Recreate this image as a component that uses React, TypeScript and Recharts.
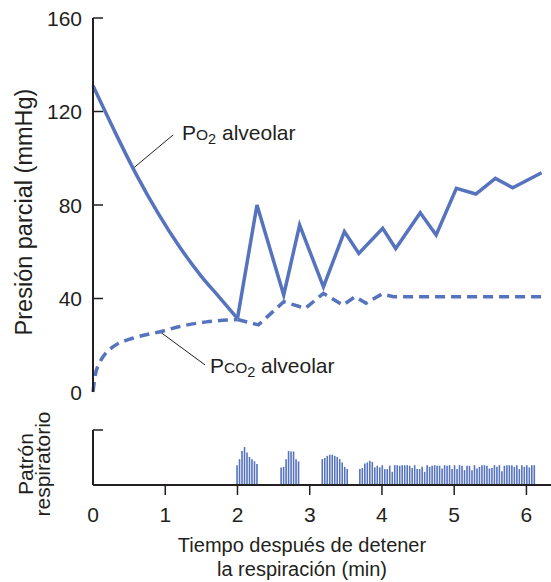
import { LineChart, Line, BarChart, Bar, XAxis, YAxis, ReferenceLine } from 'recharts';

// Values (time in min, pressure in mmHg)
const PO2_FALL_T = [0, 0.3, 0.6, 0.9, 1.2, 1.5, 1.75, 2.0];
const PO2_FALL_V = [131, 111.5, 93, 76.5, 62, 49.5, 40.5, 31.5];
const PO2_RISE_T = [2.0, 2.27, 2.64, 2.86, 3.19, 3.48, 3.68, 4.01, 4.19, 4.53, 4.75, 5.03, 5.3, 5.57, 5.81, 6.21];
const PO2_RISE_V = [31.5, 80, 41.5, 71.4, 45, 68.6, 59.3, 70, 61.4, 76.7, 67.2, 87.1, 84.7, 91.4, 87.4, 93.8];

const PCO2_RISE_T = [0, 0.03, 0.1, 0.18, 0.28, 0.55, 0.93, 1.2, 1.57, 2.0];
const PCO2_RISE_V = [0, 7, 13, 16.7, 19.4, 23, 25.8, 28, 30, 31];
const PCO2_LATE_T = [2.0, 2.29, 2.64, 2.94, 3.19, 3.46, 3.63, 3.78, 4.0, 4.16, 6.21];
const PCO2_LATE_V = [31, 28.7, 38.6, 35.8, 42.2, 37.2, 40.8, 38, 41.9, 40.8, 40.8];

// Respiratory pattern: bursts of breaths, amplitude in arbitrary units (axis top = 10)
const BREATH_STEP = 0.0345;
const BURST_STARTS = [2.0, 2.61, 3.18, 3.7];
const BURST_1 = [3.6, 4.7, 6.2, 6.9, 5.9, 5.1, 4.7, 4.3, 3.8];
const BURST_2 = [3.2, 3.3, 4.7, 6.2, 6.1, 6.1, 4.7, 4.3];
const BURST_3 = [4.7, 4.9, 5.3, 5.5, 5.5, 5.3, 5.1, 4.7, 4.1, 3.3, 2.9];
const BURST_4 = [
  2.9, 3.1, 3.9, 4.1, 4.4, 4.2, 3.2, 3.5, 3.2, 3.6, 2.9, 2.9, 3.5, 2.4, 3.6, 3.6, 3.5, 3.6,
  3.6, 3.6, 3.5, 3.1, 3.6, 2.9, 2.9, 3.3, 2.4, 3.6, 3.3, 3.5, 3.6, 3.5, 3.5, 3.0, 3.6, 3.5,
  3.6, 2.9, 3.6, 2.9, 3.6, 3.5, 2.7, 3.5, 3.5, 2.7, 3.6, 3.0, 3.3, 3.6, 3.6, 3.5, 3.0, 3.1,
  3.6, 3.3, 3.6, 2.5, 3.5, 3.6, 3.6, 3.6, 3.3, 3.6, 2.9, 3.6, 3.3, 3.6, 3.2, 3.6, 3.6,
];

const X_TICKS = [0, 1, 2, 3, 4, 5, 6];
const Y_TICKS = [0, 40, 80, 120, 160];

const X_MAX = 6.34;
const BLUE = '#5673bd';
const INK = '#231f20';
const FONT = '"Liberation Sans", Arial, Helvetica, sans-serif';

const toPoints = (ts: number[], vs: number[]) => ts.map((t, i) => ({ t, v: vs[i] }));

const po2Fall = toPoints(PO2_FALL_T, PO2_FALL_V);
const po2Rise = toPoints(PO2_RISE_T, PO2_RISE_V);
const pco2Rise = toPoints(PCO2_RISE_T, PCO2_RISE_V);
const pco2Late = toPoints(PCO2_LATE_T, PCO2_LATE_V);

const breaths = [BURST_1, BURST_2, BURST_3, BURST_4].flatMap((burst, b) =>
  burst.map((h, i) => ({ t: BURST_STARTS[b] + i * BREATH_STEP, h }))
);

// y ticks: label left of axis, short tick pointing into the plot
function PressureTick(props: any) {
  const { x, y, payload } = props;
  return (
    <g>
      {payload.value > 0 && <line x1={x + 11} x2={x + 21} y1={y} y2={y} stroke={INK} strokeWidth={1.5} />}
      <text x={x} y={y} dy="0.36em" textAnchor="end" fontSize={21} fill={INK} fontFamily={FONT}>
        {payload.value}
      </text>
    </g>
  );
}

function PatternTick(props: any) {
  const { x, y } = props;
  return <line x1={x} x2={x + 10} y1={y} y2={y} stroke={INK} strokeWidth={1.5} />;
}

function TimeTick(props: any) {
  const { x, y, payload } = props;
  return (
    <g>
      {payload.value > 0 && <line x1={x} x2={x} y1={y - 21} y2={y - 11} stroke={INK} strokeWidth={1.5} />}
      <text x={x} y={y} dy="0.74em" textAnchor="middle" fontSize={21} fill={INK} fontFamily={FONT}>
        {payload.value}
      </text>
    </g>
  );
}

const axisLine = { stroke: INK, strokeWidth: 2 };

export default function App() {
  return (
    <div style={{ position: 'absolute', left: 0, top: 0, width: 551, height: 582, background: '#fff', fontFamily: FONT }}>
      <div style={{ position: 'absolute', left: 0, top: 0 }}>
        <LineChart width={551} height={418} margin={{ top: 18, right: 0, bottom: 26, left: 0 }}>
          <XAxis type="number" dataKey="t" domain={[0, X_MAX]} ticks={X_TICKS} tick={false} tickLine={false} height={0} axisLine={axisLine} />
          <YAxis type="number" domain={[0, 160]} ticks={Y_TICKS} interval={0} width={93} tickSize={0} tickMargin={11} tickLine={false} tick={<PressureTick />} axisLine={axisLine} />
          <ReferenceLine segment={[{ x: 0.56, y: 95.8 }, { x: 1.11, y: 110 }]} stroke={INK} strokeWidth={1} />
          <ReferenceLine segment={[{ x: 0.93, y: 25.7 }, { x: 1.55, y: 11.6 }]} stroke={INK} strokeWidth={1} />
          <Line data={pco2Rise} dataKey="v" type="monotone" stroke={BLUE} strokeWidth={3.5} strokeDasharray="10 6" dot={false} isAnimationActive={false} />
          <Line data={pco2Late} dataKey="v" type="linear" stroke={BLUE} strokeWidth={3.5} strokeDasharray="10 6" dot={false} isAnimationActive={false} />
          <Line data={po2Fall} dataKey="v" type="monotone" stroke={BLUE} strokeWidth={3.5} dot={false} isAnimationActive={false} />
          <Line data={po2Rise} dataKey="v" type="linear" stroke={BLUE} strokeWidth={3.5} strokeLinejoin="miter" dot={false} isAnimationActive={false} />
        </LineChart>
      </div>

      <div style={{ position: 'absolute', left: 0, top: 420 }}>
        <BarChart width={551} height={130} data={breaths} margin={{ top: 10, right: 0, bottom: 5, left: 0 }}>
          <XAxis type="number" dataKey="t" domain={[0, X_MAX]} ticks={X_TICKS} interval={0} height={60} tickSize={10} tickMargin={11} tickLine={false} tick={<TimeTick />} axisLine={axisLine} />
          <YAxis type="number" domain={[0, 10]} ticks={[10]} interval={0} width={93} tickSize={0} tickMargin={0} tickLine={false} tick={<PatternTick />} axisLine={axisLine} />
          <Bar dataKey="h" fill={BLUE} barSize={1.6} isAnimationActive={false} />
        </BarChart>
      </div>

      <svg width={551} height={582} style={{ position: 'absolute', left: 0, top: 0, pointerEvents: 'none' }} fontFamily={FONT} fill={INK}>
        <text x={32} y={212} transform="rotate(-90 32 212)" textAnchor="middle" fontSize={23.5}>
          Presión parcial (mmHg)
        </text>
        <text x={33} y={464} transform="rotate(-90 33 464)" textAnchor="middle" fontSize={21}>
          Patrón
        </text>
        <text x={50} y={464} transform="rotate(-90 50 464)" textAnchor="middle" fontSize={21}>
          respiratorio
        </text>
        <text x={302} y={552} textAnchor="middle" fontSize={20}>Tiempo después de detener</text>
        <text x={302} y={576} textAnchor="middle" fontSize={20}>la respiración (min)</text>

        <text x={182} y={140} fontSize={21}>
          P<tspan fontSize={15.5}>O</tspan>
          <tspan fontSize={14.5} dy={4}>2</tspan>
        </text>
        <text x={222} y={140} fontSize={21}>alveolar</text>

        <text x={210} y={373} fontSize={21}>
          P<tspan fontSize={15.5}>CO</tspan>
          <tspan fontSize={14.5} dy={4}>2</tspan>
        </text>
        <text x={261} y={373} fontSize={21}>alveolar</text>
      </svg>
    </div>
  );
}
